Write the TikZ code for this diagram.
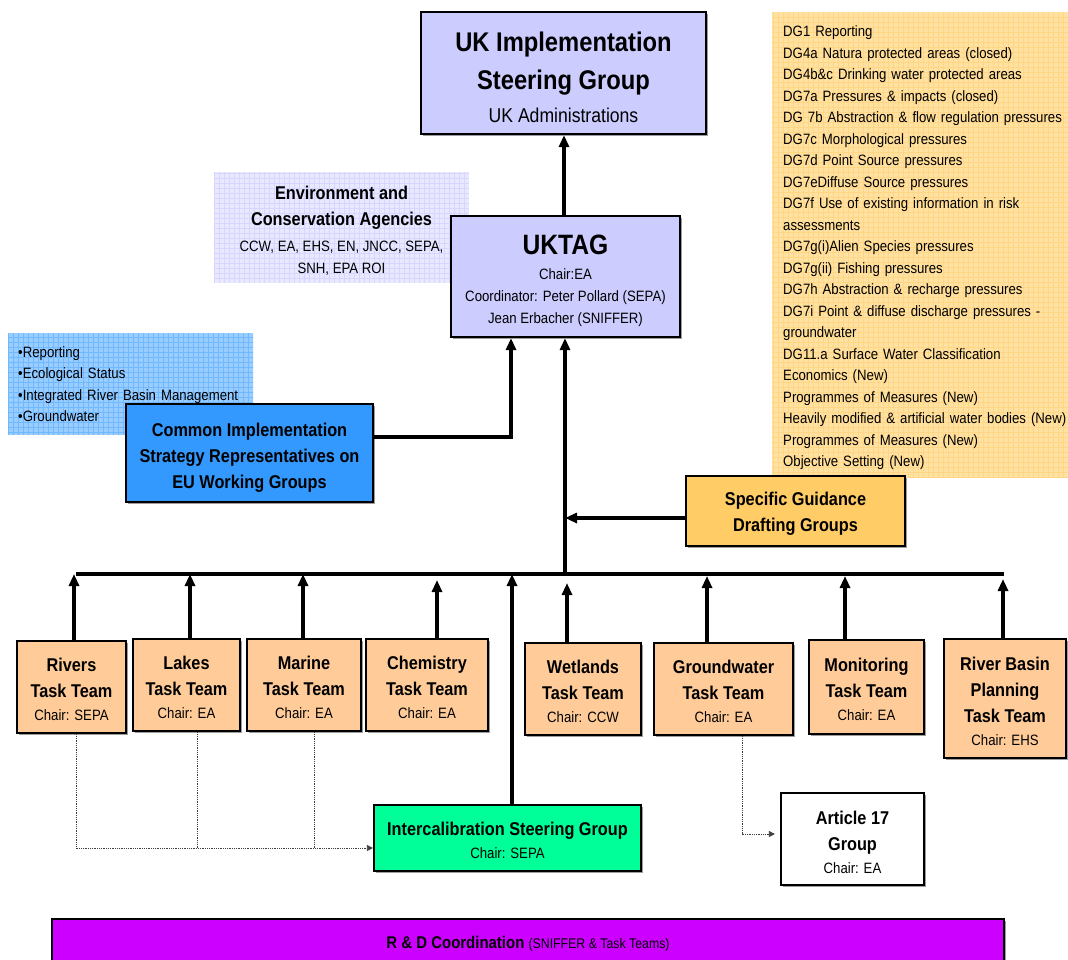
\documentclass[tikz,border=0pt]{standalone}
\usepackage{fontspec}
\setmainfont{Liberation Sans}[FakeStretch=0.88]
\usepackage{tikz}
\usetikzlibrary{arrows.meta, shadows}

\definecolor{lavender}{HTML}{CCCCFF}
\definecolor{palelav}{HTML}{E8E8FF}
\definecolor{skyblue}{HTML}{99CCFF}
\definecolor{cisblue}{HTML}{3399FF}
\definecolor{dgpeach}{HTML}{FFE2A2}
\definecolor{dgorange}{HTML}{FFCC66}
\definecolor{teamorange}{HTML}{FFCC99}
\definecolor{icgreen}{HTML}{00FF99}
\definecolor{rdpurple}{HTML}{CC00FF}

\newcommand\bigfnt{\bfseries\fontsize{27}{38}\selectfont}
\newcommand\headfnt{\bfseries\fontsize{18.5}{26}\selectfont}
\newcommand\subfnt{\mdseries\fontsize{15}{23}\selectfont}
\newcommand\lift[1]{\rule{0pt}{#1pt}} % taller first line pushes the text down

\begin{document}
\begin{tikzpicture}[
		x = 1pt, y = -1pt, % one unit per pixel, y going down
		> = {Triangle[length=12pt, width=10pt]}, % arrow head style
		gridfill/.style = {path picture = {\draw[#1, line width=0.4pt, step=5pt]
			(path picture bounding box.south west) grid (path picture bounding box.north east);}},
		font = \subfnt
		]
		
		\tikzstyle{box}=[
		draw = black,
		line width = 2.2pt,
		align = center,
		inner sep = 0pt,
		drop shadow = {shadow xshift=2pt, shadow yshift=-2pt, fill=black!55, opacity=0.7}
		]
		\tikzstyle{panel}=[inner sep = 0pt]
		\tikzstyle{team}=[box, fill = teamorange, minimum height = 92pt, font = \headfnt]
		\tikzstyle{link}=[line width = 3.2pt]
		\tikzstyle{dotlink}=[densely dotted, line width = 0.8pt, black!75]
		
		\useasboundingbox (0,0) rectangle (1068,959);
		
		% top of the tree
		\node[box, fill=lavender, minimum width=285pt, minimum height=122pt, font=\bigfnt] (isg) at (563.5,73)
		{\lift{28}UK Implementation\\Steering Group\\[-5pt]\mdseries\fontsize{20}{33}\selectfont UK Administrations};
		
		\node[panel, fill=palelav, gridfill=lavender!80, minimum width=255pt, minimum height=111pt,
		align=center, font=\headfnt] (eca) at (341.5,227.5)
		{\lift{19.5}Environment and\\Conservation Agencies\\\mdseries\fontsize{15}{24}\selectfont CCW, EA, EHS, EN, JNCC, SEPA,\\[-4pt]\mdseries\fontsize{15}{21}\selectfont SNH, EPA ROI};
		
		\node[box, fill=lavender, minimum width=229pt, minimum height=121pt] (uktag) at (565.5,276.5)
		{\bfseries\fontsize{28}{30}\selectfont\lift{29}UKTAG\\[2pt]Chair:EA\\[-1pt]Coordinator: Peter Pollard (SEPA)\\[-1pt]Jean Erbacher (SNIFFER)};
		
		% EU working groups
		\node[panel, fill=skyblue, gridfill=cisblue!70, anchor=west, inner xsep=10pt, text width=225pt,
		minimum height=102pt, align=left, font=\fontsize{15}{21.5}\selectfont] (wglist) at (8,384)
		{•Reporting\\•Ecological Status\\•Integrated River Basin Management\\•Groundwater};
		
		\node[box, fill=cisblue, minimum width=247pt, minimum height=98pt, font=\headfnt] (cis) at (249.5,453)
		{\lift{22}Common Implementation\\Strategy Representatives on\\EU Working Groups};
		
		% guidance drafting groups
		\node[panel, fill=dgpeach, gridfill=dgorange!80, anchor=west, inner xsep=11pt, text width=285pt,
		minimum height=466pt, align=left, font=\fontsize{15}{21.5}\selectfont] (dglist) at (772,245)
		{\lift{17}DG1 Reporting\\
			DG4a Natura protected areas (closed)\\
			DG4b\&c Drinking water protected areas\\
			DG7a Pressures \& impacts (closed)\\
			DG 7b Abstraction \& flow regulation pressures\\
			DG7c Morphological pressures\\
			DG7d Point Source pressures\\
			DG7eDiffuse Source pressures\\
			DG7f Use of existing information in risk\\
			assessments\\
			DG7g(i)Alien Species pressures\\
			DG7g(ii) Fishing pressures\\
			DG7h Abstraction \& recharge pressures\\
			DG7i Point \& diffuse discharge pressures -\\
			groundwater\\
			DG11.a Surface Water Classification\\
			Economics (New)\\
			Programmes of Measures (New)\\
			Heavily modified \& artificial water bodies (New)\\
			Programmes of Measures (New)\\
			Objective Setting (New)};
		
		\node[box, fill=dgorange, minimum width=219pt, minimum height=70pt, font=\headfnt] (sgdg) at (795.5,511)
		{\lift{19.5}Specific Guidance\\Drafting Groups};
		
		% task teams
		\node[team, minimum width=109pt] (rivers) at (71.5,687) {\lift{18.5}Rivers\\Task Team\\[-3pt]\subfnt Chair: SEPA};
		\node[team, minimum width=107pt] (lakes) at (186.5,685) {\lift{18.5}Lakes\\Task Team\\[-3pt]\subfnt Chair: EA};
		\node[team, minimum width=114pt] (marine) at (304,685) {\lift{18.5}Marine\\Task Team\\[-3pt]\subfnt Chair: EA};
		\node[team, minimum width=122pt] (chem) at (427,685) {\lift{18.5}Chemistry\\Task Team\\[-3pt]\subfnt Chair: EA};
		\node[team, minimum width=116pt] (wetlands) at (583,689) {\lift{18.5}Wetlands\\Task Team\\[-3pt]\subfnt Chair: CCW};
		\node[team, minimum width=139pt] (gw) at (723.5,689) {\lift{18.5}Groundwater\\Task Team\\[-3pt]\subfnt Chair: EA};
		\node[team, minimum width=115pt, minimum height=94pt] (monit) at (866.5,687) {\lift{18.5}Monitoring\\Task Team\\[-3pt]\subfnt Chair: EA};
		\node[team, minimum width=122pt, minimum height=119pt] (rbp) at (1005,698.5) {\lift{18.5}River Basin\\Planning\\Task Team\\[-3pt]\subfnt Chair: EHS};
		
		% lower groups
		\node[box, fill=icgreen, minimum width=267pt, minimum height=66pt, font=\headfnt] (icsg) at (507.5,838)
		{\lift{18.5}Intercalibration Steering Group\\[-3pt]\subfnt Chair: SEPA};
		\node[box, fill=white, minimum width=143pt, minimum height=92pt, font=\headfnt] (art17) at (852.5,839)
		{\lift{19.5}Article 17\\Group\\[-3pt]\subfnt Chair: EA};
		\node[box, fill=rdpurple, minimum width=952pt, minimum height=50pt] (rnd) at (528,944)
		{\bfseries\fontsize{17}{20}\selectfont R \& D Coordination \mdseries\fontsize{14}{20}\selectfont(SNIFFER \&  Task Teams)};
		
		% bus and trunk
		\coordinate (busl) at (76,574);
		\coordinate (busr) at (1004,574);
		\coordinate (trunk) at (565,574);
		\draw[link] (busl) -- (busr);
		\draw[link, ->] (trunk) -- (trunk |- uktag.south);
		\draw[link, ->] ([xshift=-1.5pt]uktag.north) -- ([xshift=-1.5pt]uktag.north |- isg.south);
		\draw[link, ->] ([yshift=16pt]cis.east) -| ([xshift=-54.5pt]uktag.south);
		\draw[link, ->] ([yshift=-7pt]sgdg.west) -- ([yshift=-7pt]sgdg.west -| trunk);
		
		% task teams up to the bus
		\draw[link, ->] ([xshift=2.5pt]rivers.north) -- ([xshift=2.5pt]rivers.north |- busl);
		\draw[link, ->] ([xshift=3.5pt]lakes.north) -- ([xshift=3.5pt]lakes.north |- busl);
		\draw[link, ->] ([xshift=-1pt]marine.north) -- ([xshift=-1pt]marine.north |- busl);
		\draw[link, ->, shorten >=6pt] ([xshift=10pt]chem.north) -- ([xshift=10pt]chem.north |- busl);
		\draw[link, ->, shorten >=9pt] ([xshift=-16pt]wetlands.north) -- ([xshift=-16pt]wetlands.north |- busl);
		\draw[link, ->, shorten >=2pt] ([xshift=-16.5pt]gw.north) -- ([xshift=-16.5pt]gw.north |- busl);
		\draw[link, ->, shorten >=2pt] ([xshift=-21.5pt]monit.north) -- ([xshift=-21.5pt]monit.north |- busl);
		\draw[link, ->, shorten >=5pt] ([xshift=-2pt]rbp.north) -- ([xshift=-2pt]rbp.north |- busl);
		\draw[link, ->] ([xshift=4.5pt]icsg.north) -- ([xshift=4.5pt]icsg.north |- busl);
		
		% dotted feeds
		\coordinate (icin) at ([yshift=-10pt]icsg.west);
		\draw[dotlink, -{Triangle[length=6pt, width=6pt]}] ([xshift=4.5pt]rivers.south) |- (icin);
		\draw[dotlink] ([xshift=10.5pt]lakes.south) -- ([xshift=10.5pt]lakes.south |- icin);
		\draw[dotlink] ([xshift=10pt]marine.south) -- ([xshift=10pt]marine.south |- icin);
		\draw[dotlink, -{Triangle[length=6pt, width=6pt]}, shorten >=5pt] ([xshift=18.5pt]gw.south) |- ([yshift=5pt]art17.west);
\end{tikzpicture}
\end{document}
